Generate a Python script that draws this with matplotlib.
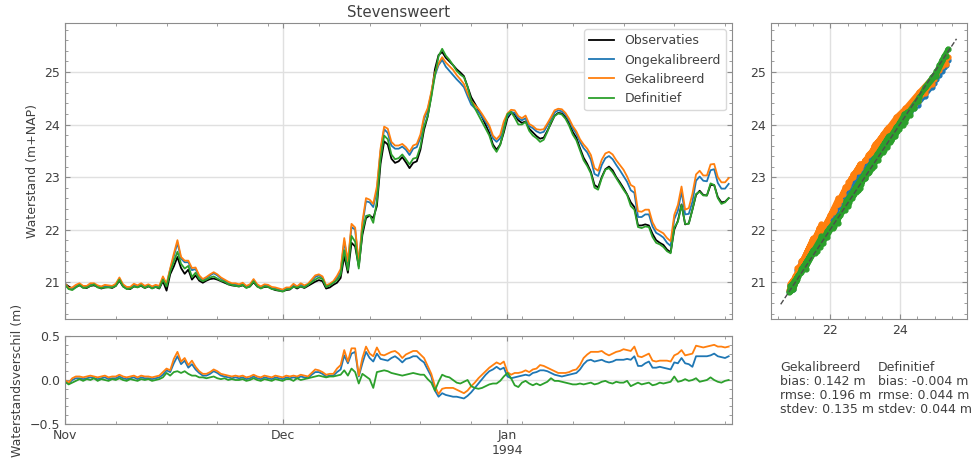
import numpy as np
import pandas as pd
import matplotlib
matplotlib.use('Agg')
import matplotlib.pyplot as plt
import matplotlib.dates as mdates
from matplotlib.ticker import AutoMinorLocator, FuncFormatter, MultipleLocator

station = 'Stevensweert'
start = '1993-11-01'

# waterstand observaties, elke 12 uur (m+NAP)
obs = [
    20.97, 20.92, 20.88, 20.91, 20.94, 20.90, 20.89, 20.93, 20.94, 20.91,
    20.88, 20.90, 20.91, 20.89, 20.93, 21.03, 20.92, 20.88, 20.87, 20.92,
    20.91, 20.93, 20.89, 20.92, 20.89, 20.91, 20.88, 21.02, 20.84, 21.15,
    21.30, 21.48, 21.27, 21.16, 21.24, 21.05, 21.13, 21.03, 20.99, 21.03,
    21.06, 21.07, 21.05, 21.02, 20.99, 20.96, 20.94, 20.93, 20.92, 20.94,
    20.90, 20.92, 21.00, 20.92, 20.89, 20.91, 20.91, 20.88, 20.85, 20.84,
    20.83, 20.85, 20.86, 20.92, 20.88, 20.92, 20.89, 20.93, 20.97, 21.01,
    21.04, 21.02, 20.88, 20.90, 20.95, 20.99, 21.08, 21.50, 21.18, 21.75,
    21.68, 21.30, 21.90, 22.22, 22.27, 22.22, 22.45, 23.25, 23.68, 23.62,
    23.35, 23.27, 23.30, 23.38, 23.28, 23.17, 23.27, 23.30, 23.52, 23.90,
    24.15, 24.55, 25.05, 25.32, 25.38, 25.27, 25.20, 25.13, 25.05, 24.99,
    24.92, 24.72, 24.52, 24.40, 24.28, 24.14, 23.99, 23.84, 23.62, 23.52,
    23.62, 23.85, 24.12, 24.22, 24.19, 24.08, 24.03, 24.06, 23.92, 23.85,
    23.78, 23.73, 23.75, 23.88, 24.02, 24.17, 24.22, 24.21, 24.14, 24.02,
    23.86, 23.75, 23.55, 23.37, 23.25, 23.10, 22.85, 22.80, 23.00, 23.15,
    23.20, 23.13, 23.00, 22.90, 22.79, 22.67, 22.52, 22.43, 22.08, 22.08,
    22.10, 22.08, 21.92, 21.80, 21.75, 21.71, 21.62, 21.57, 22.00, 22.17,
    22.48, 22.10, 22.12, 22.38, 22.66, 22.74, 22.66, 22.65, 22.85, 22.85,
    22.62, 22.52, 22.53, 22.60,
]

# model - observatie (m)
dif_ongek = [
    -0.01, -0.04, 0.00, 0.02, 0.02, 0.01, 0.02, 0.03, 0.02, 0.01,
    0.02, 0.03, 0.01, 0.02, 0.02, 0.04, 0.02, 0.01, 0.02, 0.03,
    0.01, 0.03, 0.02, 0.02, 0.01, 0.02, 0.03, 0.06, 0.11, 0.09,
    0.19, 0.27, 0.18, 0.22, 0.14, 0.18, 0.12, 0.08, 0.05, 0.05,
    0.07, 0.10, 0.08, 0.05, 0.04, 0.03, 0.02, 0.03, 0.02, 0.03,
    0.01, 0.02, 0.04, 0.02, 0.01, 0.03, 0.02, 0.01, 0.03, 0.02,
    0.01, 0.03, 0.02, 0.03, 0.02, 0.04, 0.03, 0.02, 0.06, 0.09,
    0.09, 0.07, 0.04, 0.05, 0.05, 0.09, 0.12, 0.28, 0.19, 0.30,
    0.32, 0.04, 0.19, 0.32, 0.25, 0.21, 0.30, 0.24, 0.23, 0.22,
    0.25, 0.27, 0.24, 0.20, 0.24, 0.25, 0.27, 0.27, 0.23, 0.20,
    0.12, 0.04, -0.12, -0.19, -0.15, -0.17, -0.18, -0.19, -0.19, -0.20,
    -0.21, -0.18, -0.14, -0.09, -0.04, 0.01, 0.06, 0.10, 0.12, 0.15,
    0.12, 0.14, 0.04, 0.02, 0.03, 0.04, 0.05, 0.06, 0.05, 0.08,
    0.09, 0.11, 0.11, 0.10, 0.08, 0.06, 0.05, 0.04, 0.05, 0.06,
    0.07, 0.08, 0.12, 0.18, 0.22, 0.23, 0.21, 0.22, 0.23, 0.21,
    0.20, 0.21, 0.23, 0.23, 0.23, 0.24, 0.23, 0.27, 0.16, 0.16,
    0.19, 0.21, 0.14, 0.14, 0.15, 0.14, 0.13, 0.12, 0.20, 0.19,
    0.25, 0.19, 0.18, 0.15, 0.27, 0.27, 0.27, 0.27, 0.28, 0.30,
    0.27, 0.26, 0.25, 0.27,
]

dif_gek = [
    0.00, -0.03, 0.02, 0.04, 0.04, 0.03, 0.04, 0.05, 0.04, 0.03,
    0.04, 0.05, 0.03, 0.04, 0.04, 0.06, 0.04, 0.03, 0.04, 0.05,
    0.03, 0.05, 0.04, 0.04, 0.03, 0.04, 0.05, 0.09, 0.13, 0.11,
    0.24, 0.32, 0.21, 0.25, 0.17, 0.22, 0.15, 0.10, 0.07, 0.07,
    0.09, 0.12, 0.10, 0.07, 0.06, 0.05, 0.04, 0.05, 0.04, 0.05,
    0.03, 0.04, 0.06, 0.04, 0.03, 0.05, 0.04, 0.03, 0.05, 0.04,
    0.03, 0.05, 0.04, 0.05, 0.04, 0.06, 0.05, 0.04, 0.08, 0.12,
    0.11, 0.09, 0.06, 0.07, 0.07, 0.13, 0.17, 0.34, 0.21, 0.36,
    0.36, 0.05, 0.25, 0.38, 0.30, 0.27, 0.37, 0.29, 0.28, 0.30,
    0.32, 0.33, 0.30, 0.25, 0.29, 0.31, 0.33, 0.33, 0.29, 0.25,
    0.16, 0.07, -0.07, -0.16, -0.10, -0.09, -0.09, -0.09, -0.11, -0.13,
    -0.15, -0.12, -0.07, -0.03, 0.02, 0.06, 0.10, 0.14, 0.17, 0.20,
    0.18, 0.21, 0.09, 0.06, 0.08, 0.08, 0.09, 0.11, 0.09, 0.12,
    0.13, 0.17, 0.16, 0.14, 0.12, 0.10, 0.08, 0.08, 0.08, 0.09,
    0.11, 0.12, 0.17, 0.25, 0.29, 0.32, 0.32, 0.32, 0.33, 0.30,
    0.28, 0.30, 0.32, 0.33, 0.35, 0.34, 0.33, 0.38, 0.27, 0.26,
    0.28, 0.30, 0.22, 0.21, 0.22, 0.22, 0.22, 0.21, 0.28, 0.30,
    0.34, 0.28, 0.29, 0.30, 0.39, 0.38, 0.37, 0.38, 0.39, 0.40,
    0.38, 0.38, 0.37, 0.38,
]

dif_def = [
    -0.02, -0.05, -0.03, -0.01, 0.01, -0.01, 0.01, 0.00, 0.02, -0.01,
    0.01, 0.00, -0.01, 0.01, 0.00, 0.02, 0.00, -0.01, 0.01, 0.00,
    -0.01, 0.01, 0.00, 0.01, -0.01, 0.00, 0.01, 0.03, 0.08, 0.05,
    0.09, 0.10, 0.08, 0.10, 0.07, 0.05, 0.05, 0.03, 0.03, 0.02,
    0.03, 0.04, 0.02, 0.01, 0.02, 0.00, 0.01, 0.00, 0.00, 0.01,
    -0.01, 0.00, 0.02, 0.00, -0.01, 0.01, 0.00, -0.01, 0.01, 0.00,
    -0.01, 0.01, 0.01, -0.01, 0.02, 0.00, 0.01, 0.02, 0.03, 0.04,
    0.05, 0.04, 0.03, 0.04, 0.04, 0.05, 0.06, 0.11, 0.05, 0.13,
    0.09, -0.04, 0.07, 0.04, 0.01, -0.09, 0.09, 0.10, 0.11, 0.10,
    0.08, 0.07, 0.06, 0.05, 0.06, 0.07, 0.08, 0.07, 0.06, 0.06,
    0.01, -0.03, -0.12, -0.02, 0.06, 0.04, 0.03, 0.00, -0.03, -0.04,
    -0.02, 0.00, -0.07, -0.09, -0.10, -0.09, -0.07, -0.05, -0.04, -0.04,
    -0.01, 0.04, 0.08, 0.02, -0.06, -0.08, -0.03, -0.01, -0.04, -0.06,
    -0.04, -0.06, -0.04, -0.02, 0.02, -0.01, -0.01, -0.02, -0.03, -0.04,
    -0.05, -0.05, -0.04, -0.05, -0.04, -0.03, -0.05, -0.04, -0.02, -0.01,
    -0.03, -0.04, -0.02, -0.03, -0.03, -0.01, -0.07, -0.05, -0.03, -0.05,
    -0.04, -0.03, -0.06, -0.05, -0.03, -0.04, -0.03, -0.02, 0.04, -0.02,
    -0.01, 0.01, -0.01, 0.00, 0.02, -0.02, -0.01, 0.00, 0.03, 0.00,
    -0.02, -0.03, -0.01, 0.00,
]

labels = ['Observaties', 'Ongekalibreerd', 'Gekalibreerd', 'Definitief']
colors = ['k', '#1f77b4', '#ff7f0e', '#2ca02c']
stats_gek = ['Gekalibreerd', 'bias: 0.142 m', 'rmse: 0.196 m', 'stdev: 0.135 m']
stats_def = ['Definitief', 'bias: -0.004 m', 'rmse: 0.044 m', 'stdev: 0.044 m']

plt.rcParams.update({
    'font.size': 9,
    'text.color': '0.25',
    'axes.labelcolor': '0.25',
    'axes.edgecolor': '0.55',
    'xtick.color': '0.55',
    'ytick.color': '0.55',
    'xtick.labelcolor': '0.25',
    'ytick.labelcolor': '0.25',
    'xtick.direction': 'in',
    'ytick.direction': 'in',
    'xtick.top': True,
    'ytick.right': True,
    'grid.color': '0.88',
    'grid.linewidth': 1.0,
})

times = pd.date_range(start, periods=len(obs), freq='12h')
obs = np.array(obs)
diffs = [np.array(d) for d in (dif_ongek, dif_gek, dif_def)]
models = [obs + d for d in diffs]
ylim = (20.30, 25.93)

fig = plt.figure(figsize=(9.79, 4.61), dpi=100)
ax1 = fig.add_axes([0.0664, 0.308, 0.6813, 0.642])
ax2 = fig.add_axes([0.0664, 0.0803, 0.6813, 0.1908])
ax3 = fig.add_axes([0.7875, 0.308, 0.2002, 0.642])

ax1.plot(times, obs, color=colors[0], lw=1.3, label=labels[0])
for m, c, l in zip(models, colors[1:], labels[1:]):
    ax1.plot(times, m, color=c, lw=1.3, label=l)
for d, c in zip(diffs, colors[1:]):
    ax2.plot(times, d, color=c, lw=1.3)


def month_fmt(x, pos):
    d = mdates.num2date(x)
    if d.month == 1:
        return d.strftime('%b\n%Y')
    return d.strftime('%b')


for ax in (ax1, ax2):
    # uurreeks loopt tot 31 jan 23:00
    ax.set_xlim(times[0], times[-1] + pd.Timedelta(hours=11))
    ax.xaxis.set_major_locator(mdates.MonthLocator())
    ax.xaxis.set_minor_locator(mdates.WeekdayLocator(byweekday=mdates.MO))
    ax.xaxis.set_major_formatter(FuncFormatter(month_fmt))
    ax.grid(True, which='major')
    ax.tick_params(which='minor', length=2)

ax1.tick_params(labelbottom=False)
ax1.set_ylim(ylim)
ax1.yaxis.set_major_locator(MultipleLocator(1))
ax1.yaxis.set_minor_locator(AutoMinorLocator(5))
ax1.set_ylabel('Waterstand (m+NAP)')
ax1.set_title(station, fontsize=10.8, pad=4)
ax1.legend(loc='upper right', fontsize=9, edgecolor='0.85', framealpha=1)

ax2.set_ylim(-0.5, 0.5)
ax2.yaxis.set_major_locator(MultipleLocator(0.5))
ax2.yaxis.set_minor_locator(AutoMinorLocator(5))
ax2.set_ylabel('Waterstandsverschil (m)')

for m, c in zip(models, colors[1:]):
    ax3.plot(obs, m, '-o', color=c, lw=3, ms=3.5, solid_capstyle='round', solid_joinstyle='round')
lo, hi = obs.min() - 0.25, obs.max() + 0.25
ax3.plot([lo, hi], [lo, hi], '--', color='0.3', lw=1, zorder=5)
ax3.set_xlim(ylim)
ax3.set_ylim(ylim)
ax3.xaxis.set_major_locator(MultipleLocator(2))
ax3.xaxis.set_minor_locator(AutoMinorLocator(4))
ax3.yaxis.set_major_locator(MultipleLocator(1))
ax3.yaxis.set_minor_locator(AutoMinorLocator(5))
ax3.grid(True, which='major')
ax3.tick_params(which='minor', length=2)

fig.text(0.797, 0.218, '\n'.join(stats_gek), va='top', ha='left', fontsize=9, linespacing=1.1)
fig.text(0.897, 0.218, '\n'.join(stats_def), va='top', ha='left', fontsize=9, linespacing=1.1)

plt.savefig('out.png', dpi=100)
